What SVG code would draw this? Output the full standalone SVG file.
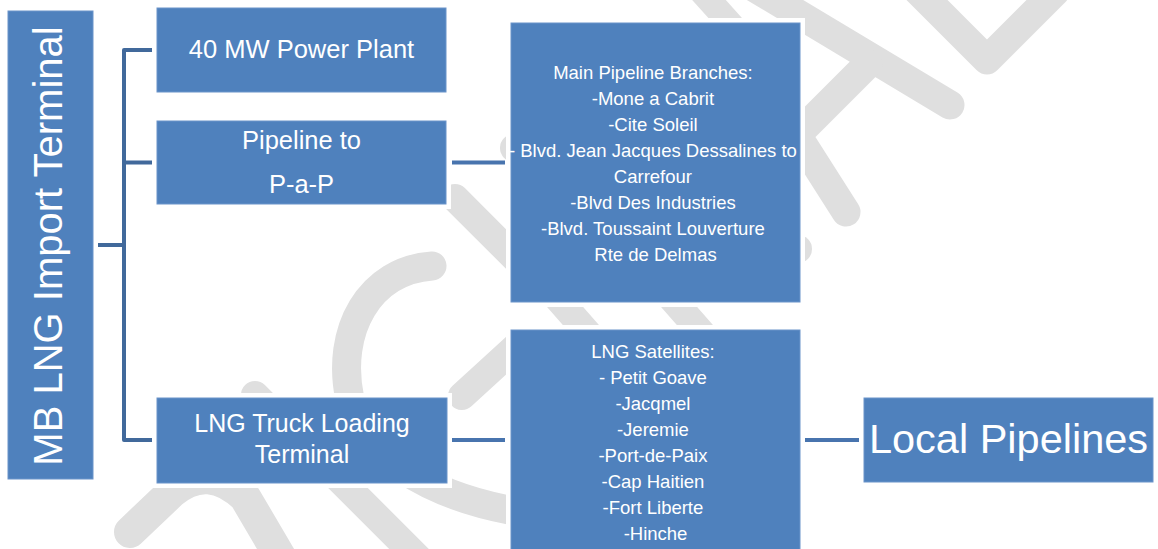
<svg xmlns="http://www.w3.org/2000/svg" width="1158" height="549" viewBox="0 0 1158 549">
<style>
.wm{fill:none;stroke:#dfdfdf;stroke-width:29;stroke-linecap:round;stroke-linejoin:round}
.wmf{fill:#dfdfdf}
.halo{fill:#ffffff}
.box{fill:#4f81bd;stroke:#6b94ca;stroke-width:1}
.t{font-family:"Liberation Sans",Arial,sans-serif;fill:#ffffff;text-anchor:middle}
.bracket{fill:none;stroke:#41699b;stroke-width:4;stroke-linejoin:round}
.link{fill:none;stroke:#4874ae;stroke-width:4}
</style>
<rect width="1158" height="549" fill="#ffffff"/>
<g id="watermark">
<path class="wm" d="M750,-15 L950,105"/>
<path class="wm" d="M868,64 L797,135 L846,212"/>
<path class="wm" d="M915,-12 L987,60 L1055,-8"/>
<path class="wm" style="stroke-width:25" d="M700,-10 L745,40"/>
<circle class="wmf" cx="798" cy="249" r="14"/>
<circle class="wmf" cx="514" cy="148" r="14"/>
<path class="wm" style="stroke-width:28" d="M455,198 L540,283"/>
<path class="wm" d="M432,266 C370,270 335,330 350,400 C362,450 420,495 520,512"/>
<path class="wm" style="stroke-width:28" d="M462,396 L520,343"/>
<path class="wm" style="stroke-width:27" d="M530,267 L616,365"/>
<path class="wm" style="stroke-width:27" d="M644,267 L730,365"/>
<path class="wm" style="stroke-width:28" d="M255,395 L430,570"/>
<path class="wm" style="stroke-width:32" d="M130,532 L172,492 Q208,462 245,497 L282,560"/>
</g>
<g id="connectors">
<path class="bracket" d="M98,245 H124 M152,50 H124 V440 H152 M124,162.5 H152"/>
<path class="link" d="M452,162.5 H505"/>
<path class="link" d="M452,440 H505"/>
<path class="link" d="M805,440 H859"/>
</g>
<g id="node-terminal">
<rect class="halo" x="3" y="6" width="95" height="478"/>
<rect class="box" x="8" y="11" width="85" height="468"/>
<text class="t" transform="translate(62,246) rotate(-90)" x="0" y="0" font-size="40">MB LNG Import Terminal</text>
</g>
<g id="node-power-plant">
<rect class="halo" x="152" y="3" width="299" height="94"/>
<rect class="box" x="157" y="8" width="289" height="84"/>
<text class="t" x="301.5" y="58" font-size="25.5">40 MW Power Plant</text>
</g>
<g id="node-pipeline">
<rect class="halo" x="152" y="116" width="299" height="93"/>
<rect class="box" x="157" y="121" width="289" height="83"/>
<text class="t" x="301.5" y="148.5" font-size="25.5">Pipeline to</text>
<text class="t" x="301.5" y="192.5" font-size="25.5">P-a-P</text>
</g>
<g id="node-truck">
<rect class="halo" x="152" y="393" width="300" height="95"/>
<rect class="box" x="157" y="398" width="290" height="85"/>
<text class="t" x="302" y="432" font-size="25">LNG Truck Loading</text>
<text class="t" x="302" y="463" font-size="25">Terminal</text>
</g>
<g id="node-branches">
<rect class="halo" x="506" y="18" width="299" height="289"/>
<rect class="box" x="511" y="23" width="289" height="279"/>
<text class="t" font-size="18.5">
<tspan x="655.5" y="79">Main Pipeline Branches:</tspan>
<tspan x="655.5" y="105">-Mone a Cabrit</tspan>
<tspan x="655.5" y="131">-Cite Soleil</tspan>
<tspan x="655.5" y="157">- Blvd. Jean Jacques Dessalines to</tspan>
<tspan x="655.5" y="183">Carrefour</tspan>
<tspan x="655.5" y="209">-Blvd Des Industries</tspan>
<tspan x="655.5" y="235">-Blvd. Toussaint Louverture</tspan>
<tspan x="655.5" y="261">Rte de Delmas</tspan>
</text>
</g>
<g id="node-satellites">
<rect class="halo" x="506" y="325" width="299" height="230"/>
<rect class="box" x="511" y="330" width="289" height="225"/>
<text class="t" font-size="18.5">
<tspan x="655.5" y="357.5">LNG Satellites:</tspan>
<tspan x="655.5" y="383.5">- Petit Goave</tspan>
<tspan x="655.5" y="409.5">-Jacqmel</tspan>
<tspan x="655.5" y="435.5">-Jeremie</tspan>
<tspan x="655.5" y="461.5">-Port-de-Paix</tspan>
<tspan x="655.5" y="487.5">-Cap Haitien</tspan>
<tspan x="655.5" y="513.5">-Fort Liberte</tspan>
<tspan x="655.5" y="539.5">-Hinche</tspan>
</text>
</g>
<g id="node-local">
<rect class="halo" x="859" y="393" width="299" height="94"/>
<rect class="box" x="864" y="398" width="289" height="84"/>
<text class="t" x="1008.5" y="453" font-size="41.5">Local Pipelines</text>
</g>
</svg>
